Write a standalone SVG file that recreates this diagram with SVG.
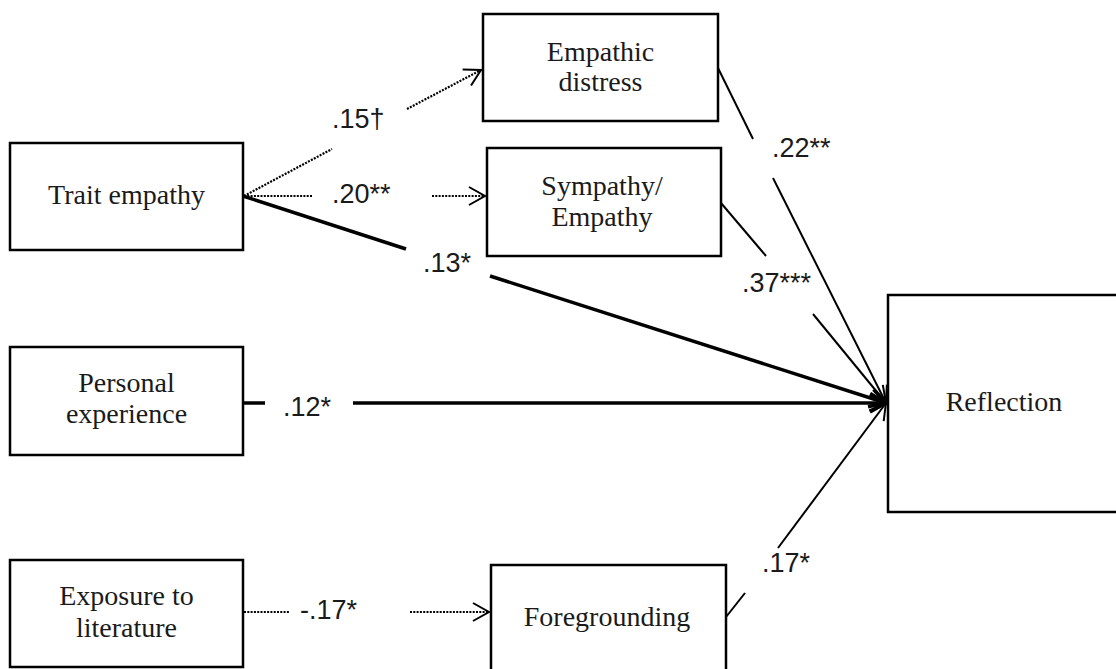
<svg xmlns="http://www.w3.org/2000/svg" width="1116" height="669" viewBox="0 0 1116 669">
<style>
.box{fill:#fff;stroke:#000;stroke-width:2.5}
.nt{font-family:"Liberation Serif",serif;font-size:28px;text-anchor:middle;fill:#1a1a1a}
.lbl{font-family:"Liberation Sans",sans-serif;font-size:27px;fill:#1a1a1a}
.dot{stroke:#000;stroke-width:2.2;stroke-dasharray:2 1.3;fill:none}
.thin{stroke:#000;stroke-width:2;fill:none}
.thick{stroke:#000;stroke-width:3.5;fill:none}
</style>
<defs>
<marker id="ah" markerUnits="userSpaceOnUse" orient="auto" overflow="visible" markerWidth="40" markerHeight="40" refX="0" refY="0">
<path d="M-16,-9 L0,0 L-16,9" fill="none" stroke="#000" stroke-width="2" stroke-dasharray="none"/>
</marker>
<marker id="ahT" markerUnits="userSpaceOnUse" orient="auto" overflow="visible" markerWidth="40" markerHeight="40" refX="0" refY="0">
<path d="M-16,-9 L0,0 L-16,9" fill="none" stroke="#000" stroke-width="3.5" stroke-dasharray="none"/>
</marker>
</defs>
<rect width="1116" height="669" fill="#fff"/>

<g id="connectors">
<line class="dot" x1="244" y1="196" x2="332" y2="149"/>
<line class="dot" x1="407" y1="109" x2="481" y2="70" marker-end="url(#ah)"/>
<line class="dot" x1="244" y1="196" x2="313" y2="196"/>
<line class="dot" x1="432" y1="196" x2="485" y2="196" marker-end="url(#ah)"/>
<line class="thick" x1="243" y1="196" x2="406" y2="249"/>
<line class="thick" x1="490" y1="276" x2="886" y2="403" marker-end="url(#ahT)"/>
<line class="thick" x1="243" y1="403" x2="265" y2="403"/>
<line class="thick" x1="353" y1="403" x2="886" y2="403" marker-end="url(#ahT)"/>
<line class="thin" x1="718" y1="68" x2="753" y2="139"/>
<line class="thin" x1="773" y1="178" x2="886" y2="403" marker-end="url(#ah)"/>
<line class="thin" x1="721" y1="203" x2="766" y2="256"/>
<line class="thin" x1="813" y1="314" x2="886" y2="403" marker-end="url(#ah)"/>
<line class="thin" x1="726" y1="617" x2="745" y2="593"/>
<line class="thin" x1="778" y1="548" x2="886" y2="403" marker-end="url(#ah)"/>
<line class="dot" x1="244" y1="612" x2="289" y2="612"/>
<line class="dot" x1="410" y1="612" x2="489" y2="612" marker-end="url(#ah)"/>
<text class="lbl" x="332" y="128">.15†</text>
<text class="lbl" x="332" y="203">.20**</text>
<text class="lbl" x="423" y="272">.13*</text>
<text class="lbl" x="283" y="416">.12*</text>
<text class="lbl" x="772" y="157">.22**</text>
<text class="lbl" x="742" y="292">.37***</text>
<text class="lbl" x="300" y="619">-.17*</text>
<text class="lbl" x="762" y="572">.17*</text>
</g>

<g id="trait-empathy">
<rect class="box" x="10" y="143" width="233" height="107"/>
<text class="nt" x="126.5" y="204">Trait empathy</text>
</g>
<g id="personal-experience">
<rect class="box" x="10" y="347" width="233" height="108"/>
<text class="nt" x="126.5" y="392">Personal</text>
<text class="nt" x="126.5" y="423">experience</text>
</g>
<g id="exposure-to-literature">
<rect class="box" x="10" y="560" width="233" height="107"/>
<text class="nt" x="126.5" y="605">Exposure to</text>
<text class="nt" x="126.5" y="637">literature</text>
</g>
<g id="empathic-distress">
<rect class="box" x="483" y="14" width="235" height="107"/>
<text class="nt" x="600.5" y="61">Empathic</text>
<text class="nt" x="600.5" y="91">distress</text>
</g>
<g id="sympathy-empathy">
<rect class="box" x="487" y="148" width="234" height="108"/>
<text class="nt" x="602" y="195">Sympathy/</text>
<text class="nt" x="602" y="226">Empathy</text>
</g>
<g id="foregrounding">
<rect class="box" x="491" y="565" width="235" height="110"/>
<text class="nt" x="607" y="626">Foregrounding</text>
</g>
<g id="reflection">
<rect class="box" x="888" y="295" width="240" height="217"/>
<text class="nt" x="1004" y="411">Reflection</text>
</g>
</svg>
